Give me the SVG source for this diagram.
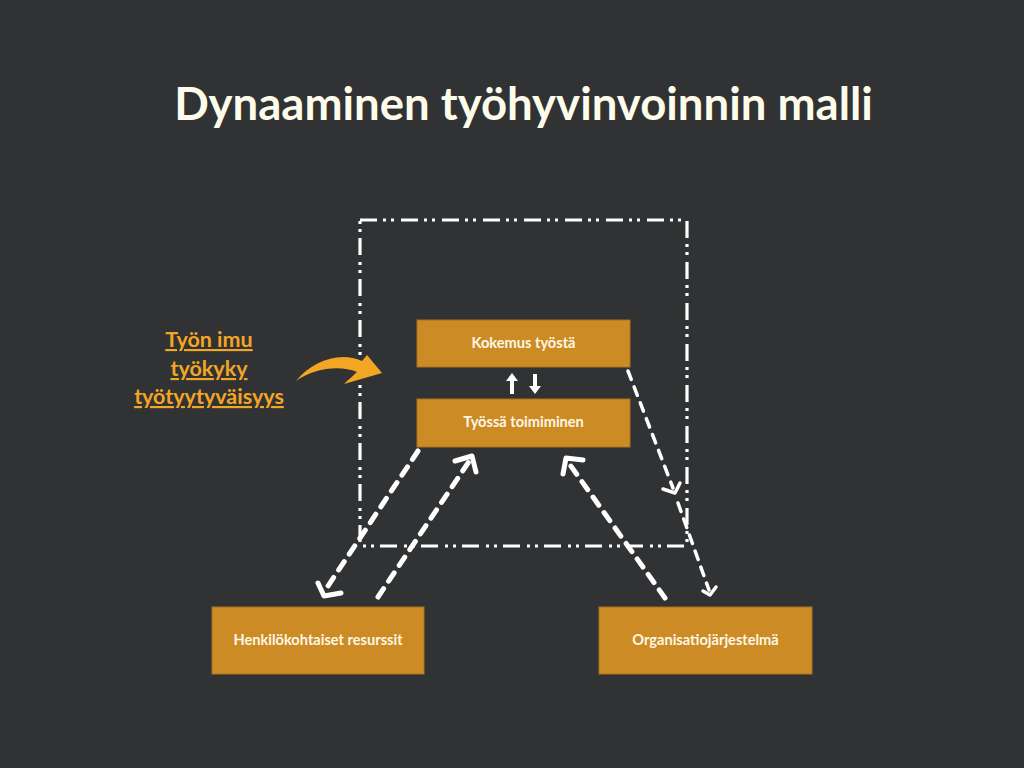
<svg xmlns="http://www.w3.org/2000/svg" width="1024" height="768" viewBox="0 0 1024 768">
<style>
.title{font-family:Lato,"Open Sans","Liberation Sans",sans-serif;font-weight:700;font-size:45.5px;fill:#fdfbe9}
.box{fill:#cd8b26;stroke:#a8731f;stroke-width:1}
.lbl{font-family:Lato,"Open Sans","Liberation Sans",sans-serif;font-weight:700;font-size:14.6px;fill:#fdf7e4}
.side{font-family:Lato,"Open Sans","Liberation Sans",sans-serif;font-weight:700;font-size:21.5px;fill:#f3a624;text-decoration:underline}
.frame{fill:none;stroke:#ffffff;stroke-width:3.2;stroke-dasharray:17 6 3 5 3 7}
.dash{fill:none;stroke:#ffffff;stroke-width:5;stroke-linecap:round;stroke-dasharray:10 9}
.dashthin{fill:none;stroke:#ffffff;stroke-width:3.5;stroke-linecap:round;stroke-dasharray:9 8}
.head{fill:none;stroke:#ffffff;stroke-width:5;stroke-linecap:round;stroke-linejoin:round}
.headthin{fill:none;stroke:#ffffff;stroke-width:3.5;stroke-linecap:round;stroke-linejoin:round}
</style>
<rect width="1024" height="768" fill="#313234"/>
<text class="title" x="523.5" y="120" text-anchor="middle">Dynaaminen työhyvinvoinnin malli</text>

<g id="frame">
<rect class="frame" x="360" y="220" width="327" height="326"/>
</g>

<g id="side-text">
<text class="side" x="209" y="347" text-anchor="middle">Työn imu</text>
<text class="side" x="209" y="376" text-anchor="middle">työkyky</text>
<text class="side" x="209" y="404" text-anchor="middle">työtyytyväisyys</text>
<path d="M296,381 C312,361 340,351 362,361 L367,355 L382,373 L344,384 C349,379 353,376 357,372 C340,365 314,368 296,381 Z" fill="#f3a624"/>
</g>

<g id="node-kokemus">
<rect class="box" x="417" y="320" width="213" height="47"/>
<text class="lbl" x="523.5" y="348" text-anchor="middle">Kokemus työstä</text>
</g>
<g id="node-toimiminen">
<rect class="box" x="417" y="399" width="213" height="48"/>
<text class="lbl" x="523.5" y="427" text-anchor="middle">Työssä toimiminen</text>
</g>
<g id="node-henkilo">
<rect class="box" x="212" y="607" width="212" height="67"/>
<text class="lbl" x="318" y="645" text-anchor="middle">Henkilökohtaiset resurssit</text>
</g>
<g id="node-organisaatio">
<rect class="box" x="599" y="607" width="213" height="67"/>
<text class="lbl" x="705.5" y="645" text-anchor="middle">Organisatiojärjestelmä</text>
</g>

<g id="connectors">
<path d="M512,394 L512,380" stroke="#ffffff" stroke-width="4"/>
<path d="M506,381 L512,373 L518,381 Z" fill="#ffffff"/>
<path d="M535,374 L535,387" stroke="#ffffff" stroke-width="4"/>
<path d="M529,386 L535,394 L541,386 Z" fill="#ffffff"/>

<path class="dash" d="M418,451 L324,592"/>
<path class="head" d="M318,583 L324,596 L341,593"/>
<path class="dash" d="M378,597 L470,460"/>
<path class="head" d="M455,461 L472,456 L476,472"/>
<path class="dash" d="M665,598 L568,462"/>
<path class="head" d="M563,474 L566,458 L583,460"/>
<path class="dashthin" d="M628,371 L673,488"/>
<path class="headthin" d="M663,489 L675,493 L680,483"/>
<path class="dashthin" d="M678,503 L709,590"/>
<path class="headthin" d="M703,591 L710,595 L716,587"/>
</g>
</svg>
